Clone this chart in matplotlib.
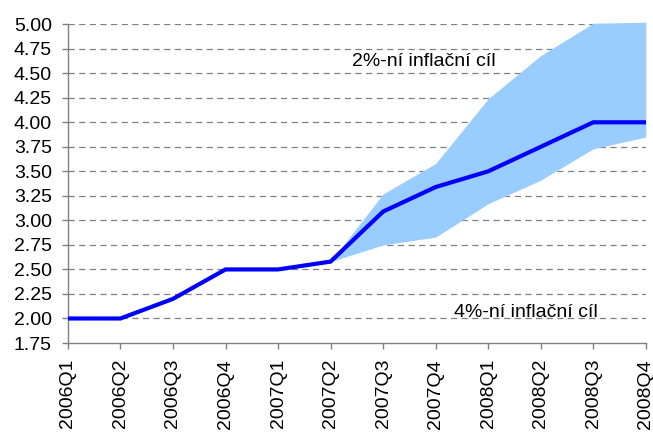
import matplotlib
matplotlib.use("Agg")
import matplotlib.pyplot as plt
import numpy as np

plt.rcParams['font.family'] = ['Liberation Sans', 'DejaVu Sans']

quarters = ["2006Q1", "2006Q2", "2006Q3", "2006Q4", "2007Q1", "2007Q2",
            "2007Q3", "2007Q4", "2008Q1", "2008Q2", "2008Q3", "2008Q4"]
rate = [2.00, 2.00, 2.20, 2.50, 2.50, 2.58, 3.09, 3.34, 3.50, 3.75, 4.00, 4.00]
band_upper = [np.nan, np.nan, np.nan, np.nan, np.nan, 2.58, 3.27, 3.58, 4.24, 4.68, 5.01, 5.02]
band_lower = [np.nan, np.nan, np.nan, np.nan, np.nan, 2.58, 2.75, 2.83, 3.17, 3.41, 3.73, 3.85]
yticks = [1.75, 2.00, 2.25, 2.50, 2.75, 3.00, 3.25, 3.50, 3.75, 4.00, 4.25, 4.50, 4.75, 5.00]

fig = plt.figure(figsize=(6.53, 4.32), dpi=100)
ax = fig.add_axes([0.104, 0.206, 0.885, 0.738])

x = np.arange(len(quarters))
ax.fill_between(x, band_lower, band_upper, color='#99CCFF', linewidth=0, clip_on=False, zorder=2)
ax.plot(x, rate, color='#0000FF', linewidth=3, zorder=3, solid_joinstyle='miter')

ax.set_xlim(0, len(quarters) - 1)
ax.set_ylim(1.75, 5.00)
ax.set_yticks(yticks)
ax.set_yticklabels([f"{v:.2f}" for v in yticks], fontsize=14)
ax.set_xticks(x)
ax.set_xticklabels(quarters, rotation=90, fontsize=14)

for v in yticks[1:]:
    ax.axhline(v, color='#808080', linestyle=(0, (5, 3.5)), linewidth=0.9, zorder=1)

for s in ['top', 'right']:
    ax.spines[s].set_visible(False)
for s in ['left', 'bottom']:
    ax.spines[s].set_color('#808080')
    ax.spines[s].set_linewidth(1)
ax.tick_params(axis='both', colors='#808080', labelcolor='black', length=4.5, width=1)
ax.tick_params(axis='x', pad=7)
ax.tick_params(axis='y', pad=7)

ax.text(5.4, 4.62, "2%-ní inflační cíl", fontsize=14, ha='left', va='center')
ax.text(7.35, 2.06, "4%-ní inflační cíl", fontsize=14, ha='left', va='center')

fig.savefig("out.png", dpi=100)
